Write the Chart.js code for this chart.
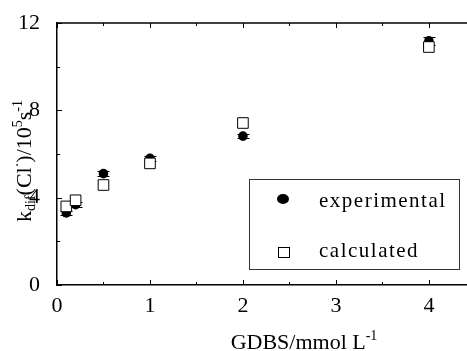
<!DOCTYPE html>
<html>
<head>
<meta charset="utf-8">
<script src="https://cdn.jsdelivr.net/npm/chart.js@4.4.1/dist/chart.umd.min.js"></script>
<style>
  html, body { margin: 0; padding: 0; background: #fff; }
  canvas { display: block; }
</style>
</head>
<body>
<canvas id="myChart" width="467" height="351"></canvas>
<script>
// data
const gdbs = [0.1, 0.2, 0.5, 1, 2, 4];
const experimental = [3.3, 3.68, 5.1, 5.8, 6.82, 11.18];
const experimentalErr = [0.1, 0.1, 0.1, 0.1, 0.1, 0.2];
const calculated = [3.6, 3.88, 4.58, 5.57, 7.42, 10.9];
const xTicks = [0, 1, 2, 3, 4];
const yTicks = [0, 4, 8, 12];

const serif = "'Liberation Serif', 'DejaVu Serif', serif";

const toPoints = (ys) => gdbs.map((x, i) => ({ x: x, y: ys[i] }));

// draw a string made of pieces with different sizes / offsets
const richWidth = (ctx, parts) => {
  let w = 0;
  parts.forEach((p) => {
    ctx.font = p.size + "px " + serif;
    w += ctx.measureText(p.t).width;
  });
  return w;
};
const drawRich = (ctx, parts, x, y) => {
  parts.forEach((p) => {
    ctx.font = p.size + "px " + serif;
    ctx.fillText(p.t, x, y + (p.dy || 0));
    x += ctx.measureText(p.t).width;
  });
};

const decorations = {
  id: "decorations",
  beforeDatasetsDraw(chart) {
    const ctx = chart.ctx;
    const xs = chart.scales.x;
    const ys = chart.scales.y;
    ctx.save();
    ctx.strokeStyle = "#000";
    ctx.lineWidth = 1;
    gdbs.forEach((g, i) => {
      const px = Math.round(xs.getPixelForValue(g)) + 0.5;
      const top = Math.round(ys.getPixelForValue(experimental[i] + experimentalErr[i])) + 0.5;
      const bot = Math.round(ys.getPixelForValue(experimental[i] - experimentalErr[i])) + 0.5;
      ctx.beginPath();
      ctx.moveTo(px, top);
      ctx.lineTo(px, bot);
      ctx.moveTo(px - 6, top);
      ctx.lineTo(px + 6, top);
      ctx.moveTo(px - 6, bot);
      ctx.lineTo(px + 6, bot);
      ctx.stroke();
    });
    ctx.restore();
  },
  afterDraw(chart) {
    const ctx = chart.ctx;
    const area = chart.chartArea;
    const xs = chart.scales.x;
    const ys = chart.scales.y;
    ctx.save();
    ctx.strokeStyle = "#000";
    ctx.fillStyle = "#000";
    ctx.lineWidth = 1.5;

    // top frame line
    ctx.beginPath();
    ctx.moveTo(area.left, area.top);
    ctx.lineTo(area.right, area.top);
    ctx.stroke();

    // inward ticks
    ctx.lineWidth = 1;
    ctx.beginPath();
    for (let v = 0; v <= 4.4; v += 0.5) {
      const px = Math.round(xs.getPixelForValue(v)) + 0.5;
      const len = Number.isInteger(v) ? 5 : 3;
      ctx.moveTo(px, area.bottom);
      ctx.lineTo(px, area.bottom - len);
      ctx.moveTo(px, area.top);
      ctx.lineTo(px, area.top + len);
    }
    for (let v = 0; v <= 12; v += 2) {
      const py = Math.round(ys.getPixelForValue(v)) + 0.5;
      const len = v % 4 === 0 ? 5 : 3;
      ctx.moveTo(area.left, py);
      ctx.lineTo(area.left + len, py);
    }
    ctx.stroke();

    // x title
    ctx.textBaseline = "alphabetic";
    ctx.textAlign = "left";
    const xTitle = [
      { t: "GDBS/mmol L", size: 22 },
      { t: "-1", size: 14, dy: -9 },
    ];
    const xw = richWidth(ctx, xTitle);
    drawRich(ctx, xTitle, 304 - xw / 2, 349);

    // y title
    const yTitle = [
      { t: "k", size: 22 },
      { t: "dif", size: 14, dy: 4 },
      { t: "(Cl", size: 22 },
      { t: "·", size: 14, dy: -9 },
      { t: ")/10", size: 22 },
      { t: "5", size: 14, dy: -9 },
      { t: "s", size: 22 },
      { t: "-1", size: 14, dy: -9 },
    ];
    const yw = richWidth(ctx, yTitle);
    ctx.save();
    ctx.translate(31, 161);
    ctx.rotate(-Math.PI / 2);
    drawRich(ctx, yTitle, -yw / 2, 0);
    ctx.restore();

    // legend box
    ctx.lineWidth = 1;
    ctx.strokeStyle = "#333";
    ctx.strokeRect(249.5, 179.5, 210, 90);
    ctx.fillStyle = "#000";
    ctx.beginPath();
    ctx.ellipse(283, 199, 6, 5, 0, 0, Math.PI * 2);
    ctx.fill();
    ctx.fillStyle = "#fff";
    ctx.strokeStyle = "#000";
    ctx.fillRect(278.5, 247.5, 11, 10);
    ctx.strokeRect(278.5, 247.5, 11, 10);
    ctx.fillStyle = "#000";
    ctx.font = "21px " + serif;
    ctx.letterSpacing = "1.5px";
    ctx.fillText(chart.data.datasets[0].label, 319, 207);
    ctx.fillText(chart.data.datasets[1].label, 319, 257);
    ctx.restore();
  },
};

const ctx = document.getElementById("myChart").getContext("2d");
const myChart = new Chart(ctx, {
  type: "scatter",
  data: {
    datasets: [
      {
        label: "experimental",
        data: toPoints(experimental),
        pointStyle: "circle",
        pointRadius: 4.8,
        backgroundColor: "#000",
        borderColor: "#000",
        borderWidth: 0,
        order: 1,
      },
      {
        label: "calculated",
        data: toPoints(calculated),
        pointStyle: "rect",
        pointRadius: 7.5,
        backgroundColor: "#fff",
        borderColor: "#000",
        borderWidth: 1,
        order: 0,
      },
    ],
  },
  options: {
    responsive: false,
    animation: false,
    devicePixelRatio: 1,
    layout: { autoPadding: false, padding: { top: 23, right: 0, left: 0, bottom: 0 } },
    plugins: {
      legend: { display: false },
      tooltip: { enabled: false },
    },
    scales: {
      x: {
        type: "linear",
        min: 0,
        max: 4.41,
        grid: { display: false },
        border: { display: true, color: "#000", width: 1.5 },
        afterFit: (scale) => {
          scale.height = 66;
          scale.paddingLeft = 0;
          scale.paddingRight = 0;
        },
        afterBuildTicks: (scale) => {
          scale.ticks = xTicks.map((v) => ({ value: v }));
        },
        ticks: {
          padding: 0,
          color: "#000",
          maxRotation: 0,
          font: { family: serif, size: 22 },
        },
      },
      y: {
        type: "linear",
        min: 0,
        max: 12,
        grid: { display: false },
        border: { display: true, color: "#000", width: 1.5 },
        afterFit: (scale) => { scale.width = 57; },
        afterBuildTicks: (scale) => {
          scale.ticks = yTicks.map((v) => ({ value: v }));
        },
        ticks: {
          padding: 9,
          color: "#000",
          font: { family: serif, size: 22 },
        },
      },
    },
  },
  plugins: [decorations],
});
</script>
</body>
</html>
